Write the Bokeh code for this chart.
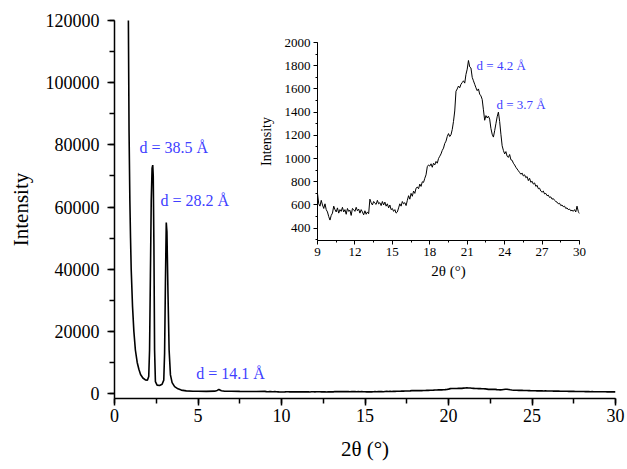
import numpy as np
from bokeh.plotting import figure
from bokeh.models import SingleIntervalTicker, BasicTickFormatter
from bokeh.core.properties import value
from bokeh.embed import file_html
from bokeh.resources import INLINE

# ---- data ----
low_two_theta = [0.80, 0.84, 0.87, 0.92, 0.96, 1.00, 1.08, 1.16, 1.25, 1.36, 1.46, 1.56,
                 1.70, 1.85, 1.97, 2.05, 2.10, 2.15, 2.20, 2.25, 2.29, 2.32, 2.36, 2.40,
                 2.45, 2.55, 2.70, 2.85, 2.95, 3.00, 3.05, 3.10, 3.14, 3.20, 3.27, 3.35,
                 3.45, 3.60, 3.80, 4.00, 4.30, 4.70, 5.00, 5.50, 6.00, 6.15, 6.25, 6.40,
                 6.60, 7.00, 7.50, 8.00, 8.50]
low_intensity = [150000, 112000, 85000, 62000, 50000, 40000, 28000, 20000, 14000, 10000, 7800, 6100,
                 5000, 4400, 4300, 5500, 14000, 38000, 62000, 72500, 73500, 70000, 48000, 14000,
                 3800, 2700, 2600, 3000, 4300, 13000, 36000, 55000, 52000, 33000, 14000, 6000,
                 3500, 2200, 1500, 1100, 850, 750, 720, 700, 760, 1000, 1300, 900,
                 750, 720, 680, 650, 640]

wide_two_theta = np.round(np.arange(9.0, 30.001, 0.1), 1)
wide_intensity = [
    700, 610, 590, 640, 600, 570, 610, 560, 540, 500,
    470, 510, 530, 590, 560, 540, 575, 530, 560, 545,
    580, 540, 560, 520, 570, 545, 555, 510, 570, 560,
    545, 580, 550, 565, 530, 560, 540, 515, 550, 520,
    540, 525, 650, 620, 600, 630, 615, 605, 640, 610,
    620, 595, 630, 600, 625, 590, 610, 575, 600, 560,
    570, 545, 560, 530, 540, 575, 610, 590, 630, 610,
    620, 595, 640, 680, 650, 700, 675, 720, 700, 745,
    755, 740, 780, 760, 800, 795, 830, 860, 930, 945,
    935, 955, 925, 960, 945, 975, 960, 1000, 1020, 1040,
    1070, 1090, 1130, 1150, 1190, 1215, 1190, 1205, 1250, 1320,
    1410, 1580, 1600, 1625, 1610, 1640, 1655, 1670, 1650, 1725,
    1770, 1845, 1790, 1780, 1700, 1670, 1640, 1610, 1585, 1600,
    1555, 1540, 1510, 1420, 1330, 1370, 1350, 1365, 1340, 1260,
    1210, 1185, 1240, 1300, 1360, 1400, 1320, 1210, 1110, 1070,
    1040, 1060, 1020, 1010, 1035, 990, 985, 960, 945, 925,
    910, 895, 880, 865, 875, 850, 860, 835, 845, 810,
    830, 795, 805, 780, 790, 760, 770, 740, 745, 720,
    710, 720, 695, 700, 680, 685, 665, 670, 650, 655,
    640, 630, 625, 610, 615, 595, 600, 585, 590, 570,
    575, 560, 565, 550, 555, 545, 560, 540, 590, 545,
    525]

main_labels = ["d = 38.5 Å", "d = 28.2 Å", "d = 14.1 Å"]
main_label_x = [1.5, 2.75, 4.9]
main_label_y = [79300, 62000, 6300]

inset_labels = ["d = 4.2 Å", "d = 3.7 Å"]
inset_label_x = [21.75, 23.35]
inset_label_y = [1800, 1470]

SERIF = "Liberation Serif"
BLUE = "#4040ff"


def style_axes(fig, tick_size, label_size, tick_out, minor_out, lw):
    fig.outline_line_color = None
    fig.xgrid.grid_line_color = None
    fig.ygrid.grid_line_color = None
    for ax in (fig.xaxis, fig.yaxis):
        ax.axis_line_width = lw
        ax.axis_line_color = "black"
        ax.major_tick_line_width = lw
        ax.minor_tick_line_width = lw
        ax.major_tick_line_color = "black"
        ax.minor_tick_line_color = "black"
        ax.major_tick_out = tick_out
        ax.major_tick_in = 0
        ax.minor_tick_out = minor_out
        ax.minor_tick_in = 0
        ax.major_label_text_font = SERIF
        ax.major_label_text_font_size = tick_size
        ax.major_label_text_color = "black"
        ax.axis_label_text_font = SERIF
        ax.axis_label_text_font_size = label_size
        ax.axis_label_text_font_style = "normal"
        ax.axis_label_text_color = "black"


# ---- main figure ----
p = figure(width=626, height=468, x_range=(0, 30), y_range=(-1600, 120000),
           output_backend="svg", toolbar_location=None,
           min_border_left=114, min_border_right=11, min_border_top=20, min_border_bottom=70)
style_axes(p, "18px", "21px", 7, 5, 1.5)
p.xaxis.ticker = SingleIntervalTicker(interval=5, num_minor_ticks=2)
p.yaxis.ticker = SingleIntervalTicker(interval=20000, num_minor_ticks=2)
p.yaxis.formatter = BasicTickFormatter(use_scientific=False)
p.xaxis.axis_label = "2θ (°)"
p.yaxis.axis_label = "Intensity"
p.xaxis.major_label_standoff = 3
p.yaxis.major_label_standoff = 8
p.xaxis.axis_label_standoff = 12
p.yaxis.axis_label_standoff = 10

main_x = list(low_two_theta) + list(wide_two_theta)
main_y = list(low_intensity) + list(wide_intensity)
p.line(main_x, main_y, line_color="black", line_width=1.6)
p.text(x=main_label_x, y=main_label_y, text=main_labels, text_font=value(SERIF),
       text_font_size="16px", text_color=BLUE, text_baseline="middle", text_align="left")

# ---- inset figure ----
inset = figure(width=334, height=254, x_range=(9, 30), y_range=(294, 2000),
               output_backend="svg", toolbar_location=None,
               min_border_left=62, min_border_right=10, min_border_top=8, min_border_bottom=48,
               styles={"position": "absolute", "left": "255px", "top": "34px"})
style_axes(inset, "13px", "14px", 4, 2, 1)
inset.border_fill_alpha = 0
inset.background_fill_alpha = 0
inset.xaxis.ticker = SingleIntervalTicker(interval=3, num_minor_ticks=2)
inset.yaxis.ticker = SingleIntervalTicker(interval=200, num_minor_ticks=2)
inset.xaxis.axis_label = "2θ (°)"
inset.yaxis.axis_label = "Intensity"
inset.xaxis.axis_label_text_font_size = "15px"
inset.xaxis.major_label_standoff = 3
inset.yaxis.major_label_standoff = 3
inset.xaxis.axis_label_standoff = 4
inset.yaxis.axis_label_standoff = 8
inset.line(wide_two_theta, wide_intensity, line_color="black", line_width=1)
inset.text(x=inset_label_x, y=inset_label_y, text=inset_labels, text_font=value(SERIF),
           text_font_size="13px", text_color=BLUE,
           text_baseline="middle", text_align="left")

open("out.html", "w").write(file_html([p, inset], INLINE))
